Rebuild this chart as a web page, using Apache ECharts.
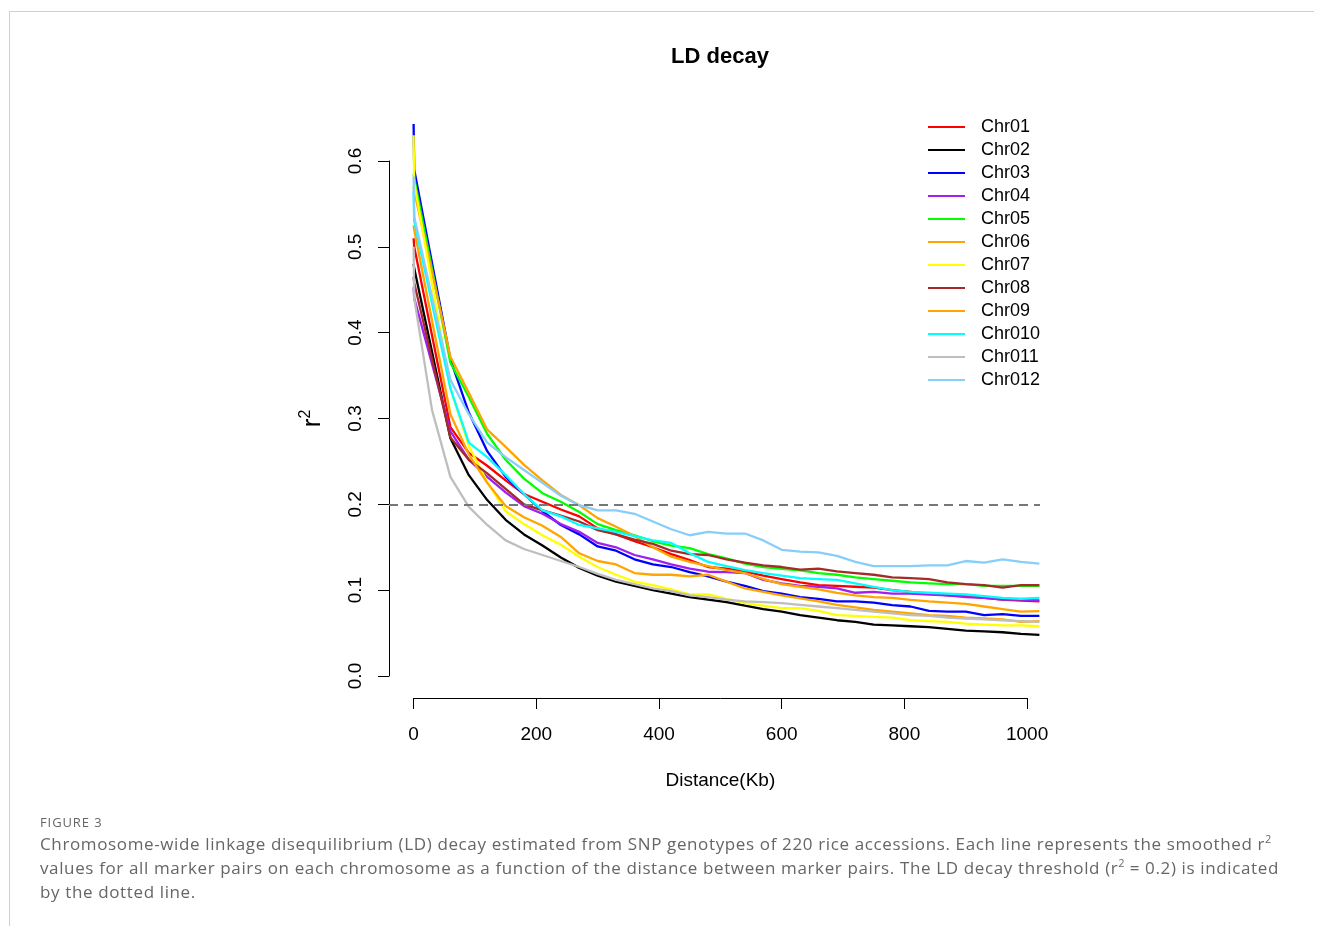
<!DOCTYPE html>
<html>
<head>
<meta charset="utf-8">
<script src="https://cdn.jsdelivr.net/npm/echarts@6/dist/echarts.min.js"></script>
<style>
html,body{margin:0;padding:0;background:#fff;width:1322px;height:926px;overflow:hidden;}
#frame{position:absolute;left:9px;top:11px;width:1304px;height:920px;border-top:1px solid #d0d0d0;border-left:1px solid #d0d0d0;}
#chart{position:absolute;left:0;top:0;width:1322px;height:926px;}
#fig{position:absolute;left:40px;top:813px;font-family:'Open Sans',sans-serif;font-size:13px;color:#666;letter-spacing:0.9px;}
#cap{position:absolute;left:40px;top:832px;width:1270px;font-family:'Open Sans',sans-serif;font-size:17px;letter-spacing:0.63px;line-height:24px;color:#666;white-space:nowrap;}
#cap sup{font-size:11px;line-height:0;vertical-align:7px;letter-spacing:0;}
</style>
</head>
<body>
<div id="frame"></div>
<div id="chart"></div>
<div id="fig">FIGURE 3</div>
<div id="cap">Chromosome-wide linkage disequilibrium (LD) decay estimated from SNP genotypes of 220 rice accessions. Each line represents the smoothed r<sup>2</sup><br>values for all marker pairs on each chromosome as a function of the distance between marker pairs. The LD decay threshold (r<sup>2</sup> = 0.2) is indicated<br>by the dotted line.</div>
<script>
// ---- data (distance in Kb, r^2 values) ----
const distances = [0, 1, 30, 60, 90, 120, 150, 180, 210, 240, 270, 300, 330, 360, 390, 420, 450, 480, 510, 540, 570, 600, 630, 660, 690, 720, 750, 780, 810, 840, 870, 900, 930, 960, 990, 1020];

const chr01 = [0.51, 0.50, null, 0.29, 0.26, 0.245, 0.228, 0.212, 0.203, 0.194, 0.186, 0.172, 0.165, 0.157, 0.15, 0.142, 0.135, 0.127, 0.125, 0.122, 0.117, 0.113, 0.109, 0.106, 0.105, 0.104, 0.103, 0.1, 0.098, 0.096, 0.094, 0.093, 0.091, 0.089, 0.088, 0.087];
const chr02 = [0.48, 0.475, null, 0.277, 0.234, 0.205, 0.182, 0.165, 0.152, 0.138, 0.126, 0.117, 0.11, 0.105, 0.1, 0.096, 0.092, 0.089, 0.086, 0.082, 0.078, 0.075, 0.071, 0.068, 0.065, 0.063, 0.06, 0.059, 0.058, 0.057, 0.055, 0.053, 0.052, 0.051, 0.049, 0.048];
const chr03 = [0.643, 0.59, null, 0.369, 0.307, 0.262, 0.232, 0.212, 0.192, 0.176, 0.165, 0.151, 0.146, 0.136, 0.13, 0.127, 0.121, 0.116, 0.11, 0.105, 0.099, 0.096, 0.092, 0.09, 0.087, 0.087, 0.0855, 0.0825, 0.081, 0.076, 0.075, 0.075, 0.071, 0.072, 0.07, 0.07];
const chr04 = [0.453, 0.44, null, 0.285, 0.252, 0.232, 0.214, 0.198, 0.189, 0.177, 0.168, 0.155, 0.15, 0.141, 0.136, 0.13, 0.125, 0.1215, 0.121, 0.12, 0.112, 0.108, 0.105, 0.104, 0.102, 0.097, 0.098, 0.096, 0.096, 0.095, 0.094, 0.092, 0.091, 0.089, 0.089, 0.088];
const chr05 = [0.585, 0.58, null, 0.365, 0.325, 0.282, 0.252, 0.23, 0.213, 0.203, 0.191, 0.177, 0.17, 0.164, 0.157, 0.152, 0.149, 0.142, 0.137, 0.131, 0.127, 0.125, 0.123, 0.12, 0.118, 0.115, 0.113, 0.111, 0.109, 0.108, 0.107, 0.107, 0.105, 0.105, 0.105, 0.105];
const chr06 = [0.57, 0.565, null, 0.372, 0.33, 0.287, 0.267, 0.246, 0.228, 0.211, 0.199, 0.184, 0.174, 0.163, 0.15, 0.139, 0.133, 0.128, 0.1235, 0.12, 0.113, 0.107, 0.104, 0.101, 0.097, 0.094, 0.092, 0.091, 0.0886, 0.087, 0.0855, 0.084, 0.081, 0.078, 0.075, 0.0755];
const chr07 = [0.63, 0.575, null, 0.335, 0.268, 0.226, 0.192, 0.177, 0.164, 0.153, 0.139, 0.127, 0.118, 0.11, 0.106, 0.101, 0.095, 0.095, 0.09, 0.085, 0.082, 0.079, 0.079, 0.076, 0.071, 0.07, 0.069, 0.068, 0.065, 0.064, 0.063, 0.061, 0.06, 0.059, 0.059, 0.058];
const chr08 = [0.465, 0.458, null, 0.278, 0.252, 0.236, 0.218, 0.2, 0.193, 0.187, 0.18, 0.17, 0.165, 0.159, 0.154, 0.146, 0.142, 0.141, 0.136, 0.132, 0.129, 0.127, 0.124, 0.125, 0.122, 0.12, 0.118, 0.115, 0.114, 0.113, 0.109, 0.107, 0.106, 0.103, 0.106, 0.106];
const chr09 = [0.525, 0.52, null, 0.305, 0.258, 0.225, 0.198, 0.185, 0.175, 0.162, 0.143, 0.134, 0.13, 0.12, 0.118, 0.118, 0.116, 0.118, 0.11, 0.102, 0.098, 0.094, 0.0905, 0.087, 0.083, 0.08, 0.077, 0.075, 0.073, 0.071, 0.07, 0.068, 0.067, 0.066, 0.063, 0.064];
const chr010 = [0.565, 0.53, null, 0.335, 0.272, 0.255, 0.234, 0.212, 0.193, 0.186, 0.176, 0.172, 0.168, 0.163, 0.158, 0.155, 0.143, 0.133, 0.128, 0.1235, 0.12, 0.117, 0.114, 0.113, 0.112, 0.108, 0.104, 0.1, 0.098, 0.097, 0.096, 0.095, 0.093, 0.091, 0.09, 0.091];
const chr011 = [0.50, 0.44, 0.31, 0.232, 0.197, 0.176, 0.158, 0.148, 0.141, 0.134, 0.127, 0.119, 0.112, 0.107, 0.102, 0.099, 0.094, 0.092, 0.089, 0.087, 0.086, 0.085, 0.083, 0.081, 0.079, 0.077, 0.075, 0.073, 0.071, 0.07, 0.068, 0.067, 0.066, 0.065, 0.064, 0.063];
const chr012 = [0.582, 0.535, null, 0.345, 0.305, 0.272, 0.255, 0.24, 0.225, 0.21, 0.199, 0.193, 0.193, 0.189, 0.18, 0.171, 0.164, 0.168, 0.166, 0.166, 0.158, 0.147, 0.145, 0.144, 0.14, 0.133, 0.128, 0.128, 0.128, 0.129, 0.129, 0.134, 0.132, 0.136, 0.133, 0.131];

const seriesNames = ['Chr01', 'Chr02', 'Chr03', 'Chr04', 'Chr05', 'Chr06', 'Chr07', 'Chr08', 'Chr09', 'Chr010', 'Chr011', 'Chr012'];
const seriesValues = [chr01, chr02, chr03, chr04, chr05, chr06, chr07, chr08, chr09, chr010, chr011, chr012];
const seriesColors = ['#FF0000', '#000000', '#0000FF', '#A020F0', '#00FF00', '#FFA500', '#FFFF00', '#A52A2A', '#FFA500', '#00FFFF', '#BEBEBE', '#87CEFA'];
const threshold = 0.2;
const xTickInterval = 200;
const yTickInterval = 0.1;

// ---- chart ----
const FONT = "'Liberation Sans', Arial, sans-serif";
const chart = echarts.init(document.getElementById('chart'), null, {renderer: 'canvas'});

const series = seriesNames.map((name, k) => ({
  name: name,
  type: 'line',
  xAxisIndex: 0,
  yAxisIndex: 0,
  symbol: 'none',
  connectNulls: true,
  lineStyle: {color: seriesColors[k], width: 2.3},
  itemStyle: {color: seriesColors[k]},
  data: distances.map((d, i) => [d, seriesValues[k][i]]).filter(p => p[1] !== null)
}));
series.push({
  name: 'threshold',
  type: 'line',
  xAxisIndex: 0,
  yAxisIndex: 0,
  data: [],
  markLine: {
    silent: true,
    symbol: ['none', 'none'],
    label: {show: false},
    lineStyle: {color: '#777777', width: 2.2, type: [9, 6]},
    data: [{yAxis: threshold}]
  }
});

const option = {
  animation: false,
  backgroundColor: 'transparent',
  graphic: [{
    type: 'text', x: 720, y: 57,
    style: {text: 'LD decay', font: 'bold 22px ' + FONT, fill: '#000', align: 'center', verticalAlign: 'middle'}
  }],
  legend: {
    orient: 'vertical',
    left: 923,
    top: 112,
    icon: 'rect',
    itemWidth: 37,
    itemHeight: 2,
    itemGap: 3,
    data: seriesNames,
    textStyle: {fontFamily: FONT, fontSize: 18, color: '#000', lineHeight: 20, padding: [0, 0, 0, 11]}
  },
  grid: [
    {left: 389, top: 104.7, width: 651, height: 593.3, containLabel: false},
    {left: 413.6, top: 161, width: 613.5, height: 515, containLabel: false}
  ],
  xAxis: [
    {gridIndex: 0, type: 'value', min: -40.1, max: 1021, show: false},
    {
      gridIndex: 1, type: 'value', min: 0, max: 1000, interval: xTickInterval, offset: 22,
      axisLine: {show: true, onZero: false, lineStyle: {color: '#000', width: 1}},
      axisTick: {show: true, length: 11, lineStyle: {color: '#000', width: 1}},
      axisLabel: {margin: 27, fontFamily: FONT, fontSize: 19, color: '#000', formatter: v => String(v)},
      splitLine: {show: false},
      name: 'Distance(Kb)', nameLocation: 'middle', nameGap: 73,
      nameTextStyle: {fontFamily: FONT, fontSize: 19, color: '#000'}
    }
  ],
  yAxis: [
    {gridIndex: 0, type: 'value', min: -0.0256, max: 0.6656, show: false},
    {
      gridIndex: 1, type: 'value', min: 0, max: 0.6, interval: yTickInterval, offset: 24.6,
      axisLine: {show: true, onZero: false, lineStyle: {color: '#000', width: 1}},
      axisTick: {show: true, length: 11, lineStyle: {color: '#000', width: 1}},
      axisLabel: {margin: 24, rotate: 90, fontFamily: FONT, fontSize: 19, color: '#000',
                  formatter: v => v.toFixed(1)},
      splitLine: {show: false},
      name: '{r|r}{s|2}', nameLocation: 'middle', nameGap: 63, nameRotate: 90,
      nameTextStyle: {
        fontFamily: FONT, color: '#000',
        rich: {
          r: {fontFamily: FONT, fontSize: 26, color: '#000', verticalAlign: 'bottom'},
          s: {fontFamily: FONT, fontSize: 16, color: '#000', verticalAlign: 'bottom', padding: [0, 0, 12, 0]}
        }
      }
    }
  ],
  series: series
};
chart.setOption(option);
</script>
</body>
</html>
